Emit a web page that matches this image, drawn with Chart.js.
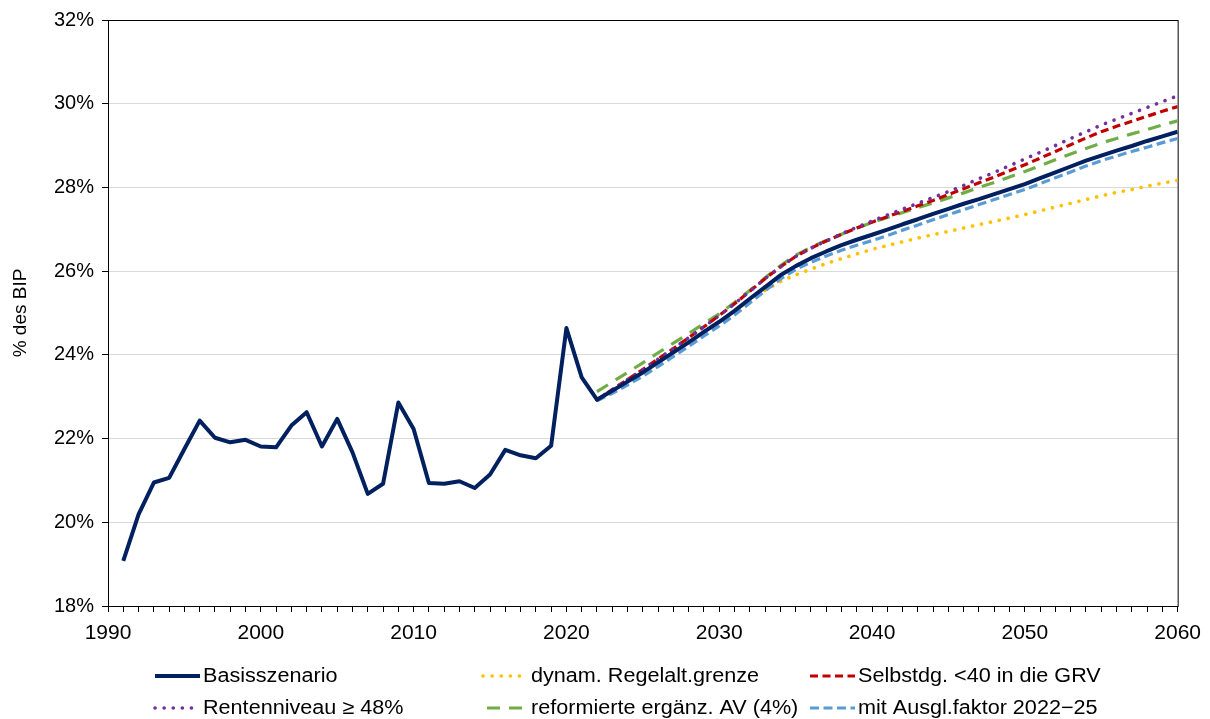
<!DOCTYPE html>
<html>
<head>
<meta charset="utf-8">
<script src="https://cdn.jsdelivr.net/npm/chart.js@4"></script>
<style>
  html, body { margin: 0; padding: 0; background: #fff; }
  canvas { display: block; }
</style>
</head>
<body>
<canvas id="bipChart" width="1210" height="719"></canvas>
<script>
// Jahre: Historie ab 1991, Projektion 2022-2060
const basisYears = Array.from({ length: 70 }, (_, i) => 1991 + i);
const projYears = Array.from({ length: 39 }, (_, i) => 2022 + i);

// Basisszenario 1991-2060 (% des BIP)
const basis = [
  19.08, 20.19, 20.95, 21.06, 21.75, 22.43, 22.02, 21.91, 21.97, 21.81,
  21.79, 22.31, 22.63, 21.81, 22.47, 21.67, 20.68, 20.92, 22.86, 22.23,
  20.94, 20.92, 20.98, 20.82, 21.14, 21.73, 21.60, 21.53, 21.83, 24.64,
  23.46, 22.93, 23.14, 23.36, 23.58, 23.82, 24.06, 24.30, 24.55, 24.79,
  25.05, 25.34, 25.62, 25.90, 26.12, 26.31, 26.47, 26.62, 26.75, 26.87,
  26.99, 27.12, 27.24, 27.37, 27.49, 27.61, 27.72, 27.84, 27.96, 28.08,
  28.22, 28.36, 28.50, 28.64, 28.76, 28.88, 28.99, 29.11, 29.22, 29.33
];

// Szenarien 2022-2060
const regelalt = [
  22.93, 23.14, 23.36, 23.58, 23.82, 24.06, 24.30, 24.55, 24.79, 25.05,
  25.30, 25.54, 25.75, 25.91, 26.05, 26.18, 26.30, 26.41, 26.52, 26.61,
  26.70, 26.79, 26.87, 26.95, 27.03, 27.11, 27.19, 27.27, 27.35, 27.44,
  27.53, 27.62, 27.71, 27.80, 27.88, 27.95, 28.03, 28.10, 28.17
];
const selbstdg = [
  22.93, 23.17, 23.41, 23.65, 23.90, 24.15, 24.41, 24.67, 24.94, 25.22,
  25.52, 25.82, 26.10, 26.35, 26.55, 26.72, 26.88, 27.03, 27.17, 27.30,
  27.43, 27.56, 27.69, 27.83, 27.97, 28.11, 28.25, 28.40, 28.54, 28.70,
  28.86, 29.02, 29.18, 29.33, 29.46, 29.58, 29.70, 29.82, 29.93
];
const rentenniveau = [
  22.93, 23.17, 23.41, 23.65, 23.90, 24.15, 24.41, 24.67, 24.94, 25.22,
  25.52, 25.82, 26.10, 26.35, 26.55, 26.72, 26.89, 27.05, 27.20, 27.34,
  27.48, 27.62, 27.76, 27.90, 28.05, 28.21, 28.36, 28.52, 28.68, 28.84,
  29.00, 29.17, 29.33, 29.49, 29.63, 29.77, 29.91, 30.05, 30.19
];
const ergaenzAV = [
  23.12, 23.35, 23.58, 23.81, 24.05, 24.28, 24.51, 24.75, 24.98, 25.25,
  25.54, 25.84, 26.13, 26.38, 26.57, 26.73, 26.88, 27.03, 27.16, 27.28,
  27.40, 27.52, 27.63, 27.75, 27.87, 28.00, 28.12, 28.25, 28.38, 28.52,
  28.66, 28.80, 28.93, 29.06, 29.17, 29.28, 29.38, 29.49, 29.59
];
const ausglFaktor = [
  22.90, 23.08, 23.28, 23.49, 23.72, 23.96, 24.20, 24.45, 24.69, 24.95,
  25.24, 25.53, 25.81, 26.04, 26.21, 26.36, 26.50, 26.62, 26.73, 26.85,
  26.98, 27.10, 27.23, 27.35, 27.47, 27.59, 27.71, 27.83, 27.95, 28.09,
  28.23, 28.37, 28.51, 28.64, 28.75, 28.86, 28.96, 29.07, 29.17
];

const yTicks = [18, 20, 22, 24, 26, 28, 30, 32];
const xLabelYears = [1990, 2000, 2010, 2020, 2030, 2040, 2050, 2060];

const FONT = "'Liberation Sans', Arial, sans-serif";

function points(years, values) {
  return values.map((v, i) => ({ x: years[i], y: v }));
}

// Legende: drei Spalten, zwei Zeilen
const legendCols = [155, 483, 810];
const legendRows = [676, 708];
const legendSlots = [[0, 0], [1, 0], [2, 0], [0, 1], [1, 1], [2, 1]];

const legendPlugin = {
  id: "gridLegend",
  beforeDatasetsDraw(chart) {
    // Rahmen um die Zeichenfläche
    const { ctx, chartArea: a } = chart;
    ctx.save();
    ctx.strokeStyle = "#000";
    ctx.lineWidth = 1;
    ctx.strokeRect(a.left + 0.5, a.top + 0.5, a.right - a.left, a.bottom - a.top);
    ctx.restore();
  },
  afterDraw(chart) {
    const ctx = chart.ctx;
    chart.data.datasets.forEach(ds => {
      const [c, r] = legendSlots[ds.legendIndex];
      const x0 = legendCols[c];
      const y = legendRows[r];
      ctx.save();
      ctx.strokeStyle = ds.borderColor;
      ctx.lineWidth = ds.borderWidth;
      ctx.lineCap = ds.borderCapStyle || "butt";
      ctx.setLineDash(ds.borderDash || []);
      ctx.lineDashOffset = ds.legendDashOffset || 0;
      ctx.beginPath();
      ctx.moveTo(x0, y);
      ctx.lineTo(x0 + 45, y);
      ctx.stroke();
      ctx.restore();

      // Schrift etwas breiter laufen lassen
      ctx.save();
      ctx.translate(x0 + 48, y);
      ctx.scale(1.08, 1);
      ctx.fillStyle = "#000";
      ctx.font = "20px " + FONT;
      ctx.textBaseline = "middle";
      ctx.fillText(ds.label, 0, 0);
      ctx.restore();
    });
  }
};

new Chart(document.getElementById("bipChart"), {
  type: "line",
  data: {
    datasets: [
      {
        label: "Basisszenario", legendIndex: 0, order: 0,
        data: points(basisYears, basis),
        borderColor: "#002060", borderWidth: 4
      },
      {
        label: "dynam. Regelalt.grenze", legendIndex: 1, order: 5,
        data: points(projYears, regelalt),
        borderColor: "#FFC000", borderWidth: 3.6,
        borderDash: [0.1, 9], borderCapStyle: "round"
      },
      {
        label: "Selbstdg. <40 in die GRV", legendIndex: 2, order: 2,
        data: points(projYears, selbstdg),
        borderColor: "#C00000", borderWidth: 3.2,
        borderDash: [8, 4.5]
      },
      {
        label: "Rentenniveau \u2265 48%", legendIndex: 3, order: 1,
        data: points(projYears, rentenniveau),
        borderColor: "#7030A0", borderWidth: 3.6,
        borderDash: [0.1, 9], borderCapStyle: "round"
      },
      {
        label: "reformierte ergänz. AV (4%)", legendIndex: 4, order: 3,
        data: points(projYears, ergaenzAV),
        borderColor: "#70AD47", borderWidth: 3.2,
        borderDash: [13, 9], legendDashOffset: -4
      },
      {
        label: "mit Ausgl.faktor 2022\u221225", legendIndex: 5, order: 4,
        data: points(projYears, ausglFaktor),
        borderColor: "#5B9BD5", borderWidth: 3.2,
        borderDash: [9, 4.5]
      }
    ]
  },
  options: {
    responsive: false,
    animation: false,
    events: [],
    layout: { padding: { left: 0, top: 18, right: 32, bottom: 75 } },
    elements: {
      point: { radius: 0 },
      line: { tension: 0, fill: false, borderJoinStyle: "round" }
    },
    plugins: {
      legend: { display: false },
      tooltip: { enabled: false }
    },
    scales: {
      x: {
        type: "linear",
        min: 1990,
        max: 2060,
        afterBuildTicks(scale) {
          scale.ticks = Array.from({ length: 71 }, (_, i) => ({ value: 1990 + i }));
        },
        afterFit(scale) { scale.height = 38; },
        ticks: {
          autoSkip: false,
          maxRotation: 0,
          padding: 9,
          color: "#000",
          font: { family: FONT, size: 21 },
          callback: v => (xLabelYears.includes(v) ? String(v) : "")
        },
        grid: { drawOnChartArea: false, tickLength: 6, tickColor: "#000" },
        border: { color: "#000" }
      },
      y: {
        min: 18,
        max: 32,
        afterBuildTicks(scale) {
          scale.ticks = yTicks.map(v => ({ value: v }));
        },
        afterFit(scale) { scale.width = 108; },
        ticks: {
          padding: 8,
          color: "#000",
          font: { family: FONT, size: 20 },
          callback: v => v + "%"
        },
        grid: { color: "#d9d9d9", tickLength: 6, tickColor: "#000" },
        border: { color: "#000" },
        title: {
          display: true,
          text: "% des BIP",
          color: "#000",
          font: { family: FONT, size: 19 },
          padding: { top: 9, bottom: 0 }
        }
      }
    }
  },
  plugins: [legendPlugin]
});
</script>
</body>
</html>
